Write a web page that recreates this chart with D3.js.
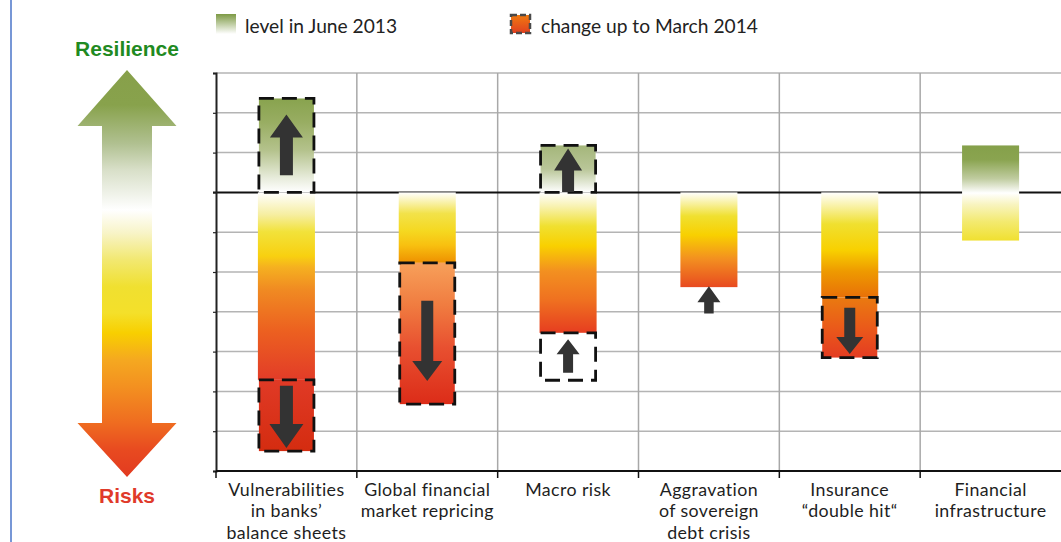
<!DOCTYPE html>
<html><head><meta charset="utf-8">
<script src="https://cdn.jsdelivr.net/npm/d3@7"></script>
<style>body{margin:0;background:#fff;} svg{display:block;}</style>
</head><body>
<svg id="chart" width="1061" height="542"></svg>
<script>
// ---------- DATA ----------
const categories = [
  ["Vulnerabilities", "in banks’", "balance sheets"],
  ["Global financial", "market repricing"],
  ["Macro risk"],
  ["Aggravation", "of sovereign", "debt crisis"],
  ["Insurance", "“double hit“"],
  ["Financial", "infrastructure"]
];
const yTicks = [-7, -6, -5, -4, -3, -2, -1, 0, 1, 2, 3];
// level in June 2013 (bar extent)
const levelTop    = [0, 0, 0, 0, 0, 1.18];
const levelBottom = [-4.71, -1.77, -3.53, -2.38, -2.64, -1.21];
// change up to March 2014 (dashed boxes)
const changeCategory = [0, 0, 1, 2, 2, 4];
const changeFrom     = [0, -4.71, -1.77, 0, -4.72, -2.64];
const changeTo       = [2.36, -6.5, -5.32, 1.18, -3.53, -4.15];
// direction arrows
const arrowCategory = [0, 0, 1, 2, 2, 3, 4];
const arrowFrom     = [0.43, -4.86, -2.72, 0.01, -4.53, -3.04, -2.90];
const arrowTo       = [1.96, -6.42, -4.74, 1.10, -3.69, -2.36, -4.06];
const legendLabels  = ["level in June 2013", "change up to March 2014"];

// ---------- STYLE ----------
const levelStops = [
  [[0,"#ffffff"],[0.12,"#f6eea0"],[0.21,"#f2e23a"],[0.34,"#f8d010"],[0.40,"#f5b020"],[0.52,"#f08a22"],[0.74,"#ec6020"],[1,"#e23c28"]],
  [[0,"#ffffff"],[0.30,"#f2e24a"],[0.55,"#f5d820"],[0.75,"#f8c010"],[1,"#ee9000"]],
  [[0,"#ffffff"],[0.10,"#f8f2b0"],[0.24,"#f0e030"],[0.38,"#f9d000"],[0.56,"#f39020"],[0.77,"#ef7020"],[1,"#e63d20"]],
  [[0,"#ffffff"],[0.25,"#f0e030"],[0.45,"#f8d000"],[0.70,"#f39020"],[1,"#e84a20"]],
  [[0,"#ffffff"],[0.30,"#f0e030"],[0.55,"#f8d000"],[0.75,"#ee9a00"],[1,"#e87008"]],
  [[0,"#85a04a"],[0.15,"#8aa450"],[0.35,"#c0cca0"],[0.50,"#ffffff"],[0.62,"#f8f4c0"],[0.80,"#f3ea70"],[1,"#f0e030"]]
];
const changeStops = [
  [[0,"#88a34e"],[0.25,"#98ad62"],[0.55,"#b4c28c"],[0.85,"#e8ecdc"],[1,"#ffffff"]],
  [[0,"#e03a26"],[1,"#d42c10"]],
  [[0,"#f7a05a"],[0.30,"#f07c40"],[0.60,"#e85030"],[1,"#dc2c18"]],
  [[0,"#a4b67a"],[0.5,"#b9c698"],[1,"#ffffff"]],
  null,
  [[0,"#ea7a10"],[0.5,"#ea5a1a"],[1,"#e43c22"]]
];
const arrowHeadW  = [33, 34, 30, 28, 23, 23, 27];
const arrowHeadL  = [23, 24, 20, 22, 15, 16, 17];
const arrowShaftW = [13, 13, 12, 12, 10, 9.5, 11];

const svg = d3.select("#chart");
const defs = svg.append("defs");
function grad(id, stops, attrs) {
  const g = defs.append("linearGradient").attr("id", id)
    .attr("x1", 0).attr("y1", 0).attr("x2", 0).attr("y2", 1);
  if (attrs) Object.entries(attrs).forEach(([k, v]) => g.attr(k, v));
  stops.forEach(s => g.append("stop").attr("offset", s[0]).attr("stop-color", s[1]));
}
levelStops.forEach((s, i) => grad("lvl" + i, s));
changeStops.forEach((s, i) => { if (s) grad("chg" + i, s); });
grad("leg1", [[0,"#7d9a45"],[1,"#ffffff"]]);
grad("leg2", [[0,"#f07a10"],[1,"#e04020"]]);

// ---------- SCALES ----------
const pLeft = 216, pRight = 1061, pTop = 73, pBottom = 471;
const x = d3.scaleBand().domain(d3.range(categories.length))
  .range([pLeft, pRight]).paddingInner(0.595).paddingOuter(0.2975);
const y = d3.scaleLinear().domain([-7, 3]).range([pBottom, pTop]);
const step = x.step();

// blue vertical line at far left
svg.append("line").attr("x1", 11).attr("x2", 11).attr("y1", 0).attr("y2", 542)
  .attr("stroke", "#4a74c8").attr("stroke-width", 1.5);

// ---------- GRID ----------
const grid = svg.append("g");
grid.selectAll("line.h").data(yTicks.filter(t => t !== 0 && t !== -7)).enter().append("line")
  .attr("x1", pLeft).attr("x2", pRight).attr("y1", d => y(d)).attr("y2", d => y(d))
  .attr("stroke", "#b4b4b4").attr("stroke-width", 1.5);
grid.selectAll("line.v").data(d3.range(1, categories.length)).enter().append("line")
  .attr("x1", d => pLeft + d * step).attr("x2", d => pLeft + d * step)
  .attr("y1", pTop).attr("y2", pBottom)
  .attr("stroke", "#a8a8a8").attr("stroke-width", 1.5);
// zero line
svg.append("line").attr("x1", pLeft - 3).attr("x2", pRight).attr("y1", y(0)).attr("y2", y(0))
  .attr("stroke", "#111").attr("stroke-width", 2);
// axes
const yAxis = d3.axisLeft(y).tickValues(yTicks).tickSize(3).tickFormat("");
const gy = svg.append("g").attr("transform", `translate(${pLeft},0)`).call(yAxis);
gy.select(".domain").attr("stroke", "#222").attr("stroke-width", 2);
gy.selectAll(".tick line").attr("stroke", "#222").attr("stroke-width", 1.2);
const gx = svg.append("g").attr("transform", `translate(0,${pBottom})`);
gx.append("line").attr("x1", pLeft).attr("x2", pRight).attr("stroke", "#111").attr("stroke-width", 2);
gx.selectAll("line.t").data(d3.range(0, categories.length)).enter().append("line")
  .attr("x1", d => pLeft + d * step).attr("x2", d => pLeft + d * step)
  .attr("y1", 0).attr("y2", 7).attr("stroke", "#111").attr("stroke-width", 1.5);

// ---------- BARS ----------
svg.append("g").selectAll("rect").data(categories).enter().append("rect")
  .attr("x", (d, i) => x(i)).attr("width", x.bandwidth())
  .attr("y", (d, i) => y(levelTop[i]))
  .attr("height", (d, i) => y(levelBottom[i]) - y(levelTop[i]))
  .attr("fill", (d, i) => `url(#lvl${i})`);

// change boxes
svg.append("g").selectAll("rect").data(changeCategory).enter().append("rect")
  .attr("x", d => x(d) + 1).attr("width", x.bandwidth() - 2)
  .attr("y", (d, i) => y(Math.max(changeFrom[i], changeTo[i])))
  .attr("height", (d, i) => Math.abs(y(changeFrom[i]) - y(changeTo[i])))
  .attr("fill", (d, i) => changeStops[i] ? `url(#chg${i})` : "#ffffff")
  .attr("stroke", "#111").attr("stroke-width", 2.8)
  .attr("stroke-dasharray", "15,8");

// arrows
function arrowPath(cx, y0, y1, hw, hl, sw) {
  const dir = Math.sign(y1 - y0);
  const yb = y1 - dir * hl;
  return `M${cx - sw / 2},${y0}L${cx - sw / 2},${yb}L${cx - hw / 2},${yb}L${cx},${y1}` +
         `L${cx + hw / 2},${yb}L${cx + sw / 2},${yb}L${cx + sw / 2},${y0}Z`;
}
svg.append("g").selectAll("path").data(arrowCategory).enter().append("path")
  .attr("d", (d, i) => arrowPath(x(d) + x.bandwidth() / 2, y(arrowFrom[i]), y(arrowTo[i]),
        arrowHeadW[i], arrowHeadL[i], arrowShaftW[i]))
  .attr("fill", "#333333");

// category labels
const lab = svg.append("g").attr("font-family", "Lato, 'Open Sans', sans-serif")
  .attr("font-size", 17.8).attr("letter-spacing", 0.4).attr("fill", "#1e1e1e").attr("text-anchor", "middle");
categories.forEach((lines, i) => {
  const t = lab.append("text").attr("x", x(i) + x.bandwidth() / 2).attr("y", 496);
  lines.forEach((l, k) => t.append("tspan").attr("x", x(i) + x.bandwidth() / 2)
    .attr("dy", k === 0 ? 0 : 21.4).text(l));
});

// ---------- BIG LEFT ARROW ----------
grad("bigArrow", [[0,"#87a04a"],[0.086,"#88a24c"],[0.18,"#b0c090"],[0.245,"#d8dfc8"],[0.344,"#ffffff"],
  [0.40,"#f8f4c8"],[0.467,"#f2e870"],[0.533,"#f0e030"],[0.597,"#f4e02a"],[0.646,"#f8cf00"],
  [0.713,"#f5a820"],[0.779,"#f39020"],[0.867,"#ef6c20"],[0.934,"#e84a20"],[1,"#e23a20"]],
  {gradientUnits: "userSpaceOnUse", x1: 0, x2: 0, y1: 70, y2: 477});
const acx = 127, aTop = 70, aBot = 477, aHL = 56, aHW = 49.5, aSW = 25;
svg.append("path").attr("fill", "url(#bigArrow)")
  .attr("d", `M${acx},${aTop}L${acx + aHW},${aTop + aHL}L${acx + aSW},${aTop + aHL}L${acx + aSW},${aBot - 54}` +
    `L${acx + aHW},${aBot - 54}L${acx},${aBot}L${acx - aHW},${aBot - 54}L${acx - aSW},${aBot - 54}` +
    `L${acx - aSW},${aTop + aHL}L${acx - aHW},${aTop + aHL}Z`);
svg.append("text").attr("x", acx).attr("y", 56).attr("text-anchor", "middle")
  .attr("font-family", "'Liberation Sans', Arial, sans-serif").attr("font-weight", "bold")
  .attr("font-size", 21).attr("fill", "#1f8a22").text("Resilience");
svg.append("text").attr("x", acx).attr("y", 503).attr("text-anchor", "middle")
  .attr("font-family", "'Liberation Sans', Arial, sans-serif").attr("font-weight", "bold")
  .attr("font-size", 21).attr("fill", "#e03a2a").text("Risks");

// ---------- LEGEND ----------
svg.append("rect").attr("x", 216).attr("y", 14).attr("width", 20).attr("height", 20).attr("fill", "url(#leg1)");
svg.append("rect").attr("x", 511).attr("y", 15).attr("width", 19).attr("height", 18).attr("fill", "url(#leg2)")
  .attr("stroke", "#4a4a4a").attr("stroke-width", 2.5).attr("stroke-dasharray", "6,3");
const leg = svg.append("g").attr("font-family", "Lato, 'Open Sans', sans-serif").attr("font-size", 19.2).attr("fill", "#222");
leg.append("text").attr("x", 245).attr("y", 33).text(legendLabels[0]);
leg.append("text").attr("x", 541).attr("y", 33).text(legendLabels[1]);
</script>
</body></html>
